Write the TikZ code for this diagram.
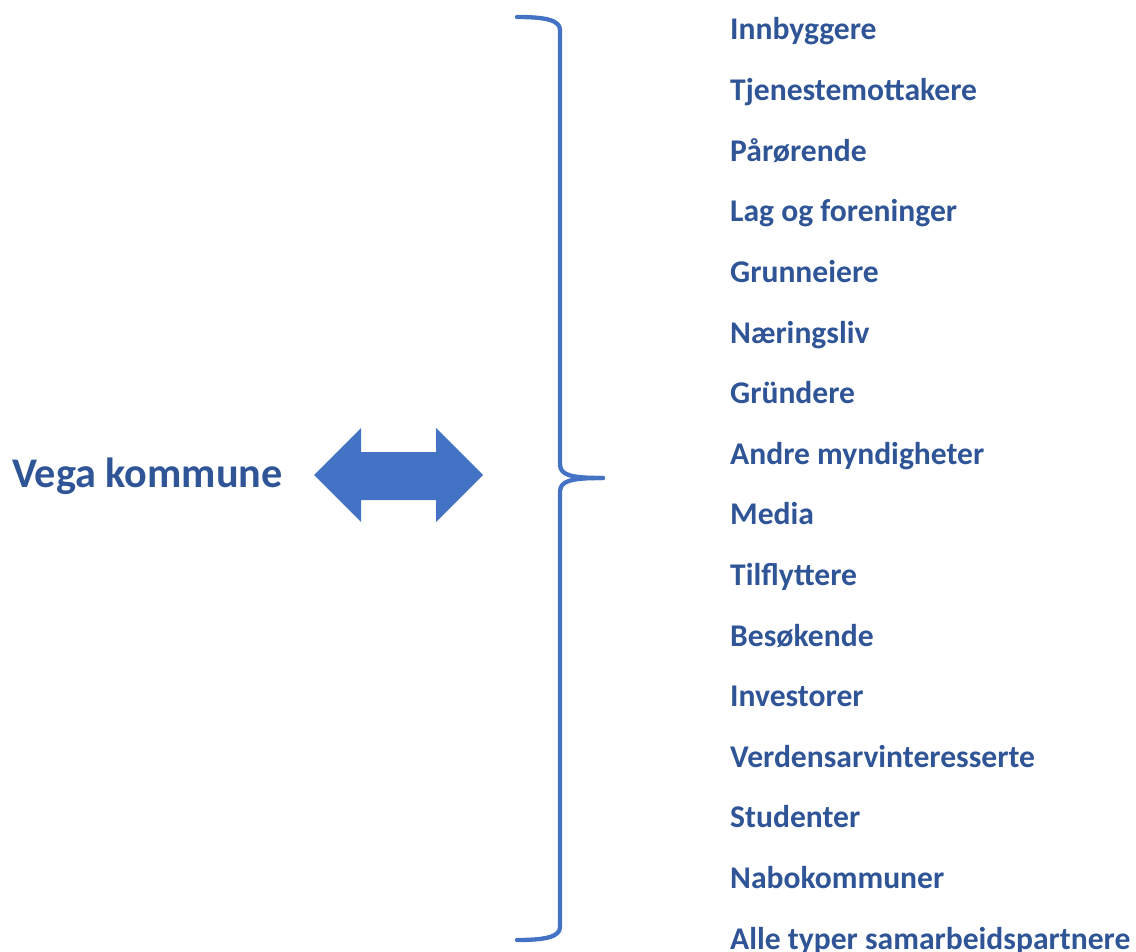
\documentclass[tikz,border=0pt]{standalone}
\usepackage{fontspec}
\setmainfont{Carlito}
\definecolor{txtblue}{HTML}{2F5597}
\definecolor{shapeblue}{HTML}{4472C4}
\tikzset{
  item/.style={anchor=base west, inner sep=0pt, text=txtblue, font=\fontsize{31.6}{36}\selectfont\bfseries},
  title/.style={anchor=base west, inner sep=0pt, text=txtblue, font=\fontsize{42.2}{48}\selectfont\bfseries},
  bracepath/.style={draw=shapeblue, line width=4.3pt, line cap=round, line join=round},
}
\begin{document}
\begin{tikzpicture}[x=1pt,y=1pt]
\useasboundingbox (0,0) rectangle (1136,-952);
\node[title] (vega) at (12,-487) {Vega kommune};
\fill[shapeblue] (314,-475) -- (361,-428) -- (361,-452) -- (436,-452) -- (436,-428) -- (483,-475) -- (436,-522) -- (436,-500) -- (361,-500) -- (361,-522) -- cycle;
\draw[bracepath] (517,-17) .. controls (545,-17) and (560,-20) .. (560,-30) -- (560,-464) .. controls (560,-475) and (570,-478) .. (603,-478);
\draw[bracepath] (603,-478) .. controls (570,-478) and (560,-481) .. (560,-492) -- (560,-927) .. controls (560,-937) and (545,-940) .. (517,-940);
\foreach \t [count=\i from 0] in {Innbyggere,Tjenestemottakere,Pårørende,Lag og foreninger,Grunneiere,Næringsliv,Gründere,Andre myndigheter,Media,Tilflyttere,Besøkende,Investorer,Verdensarvinteresserte,Studenter,Nabokommuner,Alle typer samarbeidspartnere}
  \node[item] (item\i) at (730,{-40-60.6*\i}) {\t};
\end{tikzpicture}
\end{document}
